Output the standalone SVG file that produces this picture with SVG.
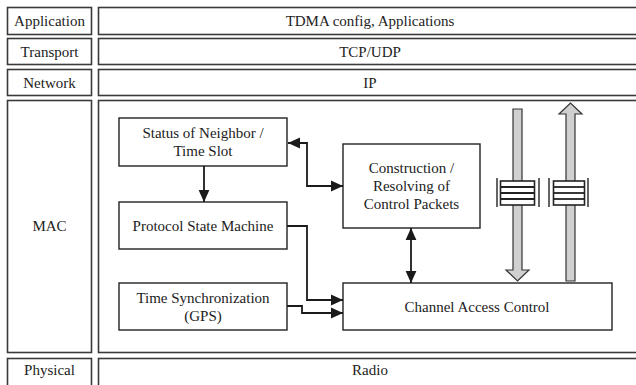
<svg xmlns="http://www.w3.org/2000/svg" width="636" height="385" viewBox="0 0 636 385">
<defs>
<style>
.lay{fill:#fff;stroke:#3a3a3a;stroke-width:1.6}
.box{fill:#fff;stroke:#222;stroke-width:1.4}
.c{fill:none;stroke:#1a1a1a;stroke-width:1.8}
.g{fill:#d0d0d0;stroke:#333;stroke-width:1.2}
.q{fill:#fff;stroke:#222;stroke-width:1.6}
.ql{stroke:#222;stroke-width:1.8}
.qb{stroke:#222;stroke-width:1.4}
</style>
<marker id="ah2" viewBox="0 0 10 10" refX="10" refY="5" markerWidth="12" markerHeight="12" orient="auto-start-reverse" markerUnits="userSpaceOnUse">
<path d="M0,0.5 L10,5 L0,9.5 z" fill="#1a1a1a"/>
</marker>
</defs>
<rect width="636" height="385" fill="#fff"/>

<g id="layer-application">
<rect class="lay" x="7.5" y="7.5" width="84" height="27"/>
<text x="49.5" y="26" style="font-family:'Times New Roman','Liberation Serif',serif;font-size:15px" fill="#222" text-anchor="middle">Application</text>
<rect class="lay" x="98.5" y="7.5" width="545" height="27"/>
<text x="370" y="26" style="font-family:'Times New Roman','Liberation Serif',serif;font-size:15px" fill="#222" text-anchor="middle">TDMA config, Applications</text>
</g>
<g id="layer-transport">
<rect class="lay" x="7.5" y="38.5" width="84" height="26"/>
<text x="49.5" y="56.5" style="font-family:'Times New Roman','Liberation Serif',serif;font-size:15px" fill="#222" text-anchor="middle">Transport</text>
<rect class="lay" x="98.5" y="38.5" width="545" height="26"/>
<text x="370" y="56.5" style="font-family:'Times New Roman','Liberation Serif',serif;font-size:15px" fill="#222" text-anchor="middle">TCP/UDP</text>
</g>
<g id="layer-network">
<rect class="lay" x="7.5" y="69.5" width="84" height="26"/>
<text x="49.5" y="87.5" style="font-family:'Times New Roman','Liberation Serif',serif;font-size:15px" fill="#222" text-anchor="middle">Network</text>
<rect class="lay" x="98.5" y="69.5" width="545" height="26"/>
<text x="370" y="87.5" style="font-family:'Times New Roman','Liberation Serif',serif;font-size:15px" fill="#222" text-anchor="middle">IP</text>
</g>
<g id="layer-mac">
<rect class="lay" x="7.5" y="100.5" width="84" height="252"/>
<text x="49.5" y="231" style="font-family:'Times New Roman','Liberation Serif',serif;font-size:15px" fill="#222" text-anchor="middle">MAC</text>
<rect class="lay" x="98.5" y="100.5" width="545" height="252"/>
</g>
<g id="layer-physical">
<rect class="lay" x="7.5" y="358.5" width="84" height="30"/>
<text x="49.5" y="375" style="font-family:'Times New Roman','Liberation Serif',serif;font-size:15px" fill="#222" text-anchor="middle">Physical</text>
<rect class="lay" x="98.5" y="358.5" width="545" height="30"/>
<text x="370" y="375" style="font-family:'Times New Roman','Liberation Serif',serif;font-size:15px" fill="#222" text-anchor="middle">Radio</text>
</g>

<g id="status">
<rect class="box" x="119" y="118" width="168" height="48"/>
<text x="203" y="138" style="font-family:'Times New Roman','Liberation Serif',serif;font-size:15px" fill="#222" text-anchor="middle">Status of Neighbor /</text>
<text x="203" y="156" style="font-family:'Times New Roman','Liberation Serif',serif;font-size:15px" fill="#222" text-anchor="middle">Time Slot</text>
</g>
<g id="psm">
<rect class="box" x="119" y="202" width="168" height="47"/>
<text x="203" y="230.5" style="font-family:'Times New Roman','Liberation Serif',serif;font-size:15px" fill="#222" text-anchor="middle">Protocol State Machine</text>
</g>
<g id="timesync">
<rect class="box" x="119" y="283" width="168" height="47"/>
<text x="203" y="303" style="font-family:'Times New Roman','Liberation Serif',serif;font-size:15px" fill="#222" text-anchor="middle">Time Synchronization</text>
<text x="203" y="321" style="font-family:'Times New Roman','Liberation Serif',serif;font-size:15px" fill="#222" text-anchor="middle">(GPS)</text>
</g>
<g id="construction">
<rect class="box" x="343" y="144" width="137" height="84"/>
<text x="411.5" y="173" style="font-family:'Times New Roman','Liberation Serif',serif;font-size:15px" fill="#222" text-anchor="middle">Construction /</text>
<text x="411.5" y="191" style="font-family:'Times New Roman','Liberation Serif',serif;font-size:15px" fill="#222" text-anchor="middle">Resolving of</text>
<text x="411.5" y="209" style="font-family:'Times New Roman','Liberation Serif',serif;font-size:15px" fill="#222" text-anchor="middle">Control Packets</text>
</g>
<g id="cac">
<rect class="box" x="343" y="283" width="269" height="47"/>
<text x="477" y="311.5" style="font-family:'Times New Roman','Liberation Serif',serif;font-size:15px" fill="#222" text-anchor="middle">Channel Access Control</text>
</g>

<g id="queues">
<line class="qb" x1="497" y1="178" x2="497" y2="207"/>
<line class="qb" x1="539" y1="178" x2="539" y2="207"/>
<line class="qb" x1="549" y1="178" x2="549" y2="207"/>
<line class="qb" x1="588" y1="178" x2="588" y2="207"/>
</g>

<g id="connectors">
<line class="c" x1="204" y1="166" x2="204" y2="202" marker-end="url(#ah2)"/>
<polyline class="c" points="288,143 307,143 307,186 343,186" marker-start="url(#ah2)" marker-end="url(#ah2)"/>
<polyline class="c" points="287,226 307,226 307,300 343,300" marker-end="url(#ah2)"/>
<polyline class="c" points="287,306 302,306 302,313 343,313" marker-end="url(#ah2)"/>
<line class="c" x1="411" y1="228" x2="411" y2="283" marker-start="url(#ah2)" marker-end="url(#ah2)"/>
<path class="g" d="M513,109 H522 V270 H529 L517.5,281 L506,270 H513 Z"/>
<path class="g" d="M566,281 H575 V114 H582 L570.5,103 L559,114 H566 Z"/>
<g>
<rect class="q" x="500.5" y="181" width="34" height="24"/>
<line class="ql" x1="500.5" y1="187" x2="534.5" y2="187"/>
<line class="ql" x1="500.5" y1="193" x2="534.5" y2="193"/>
<line class="ql" x1="500.5" y1="199" x2="534.5" y2="199"/>
<rect class="q" x="553.5" y="181" width="31" height="24"/>
<line class="ql" x1="553.5" y1="187" x2="584.5" y2="187"/>
<line class="ql" x1="553.5" y1="193" x2="584.5" y2="193"/>
<line class="ql" x1="553.5" y1="199" x2="584.5" y2="199"/>
</g>
</g>
</svg>
